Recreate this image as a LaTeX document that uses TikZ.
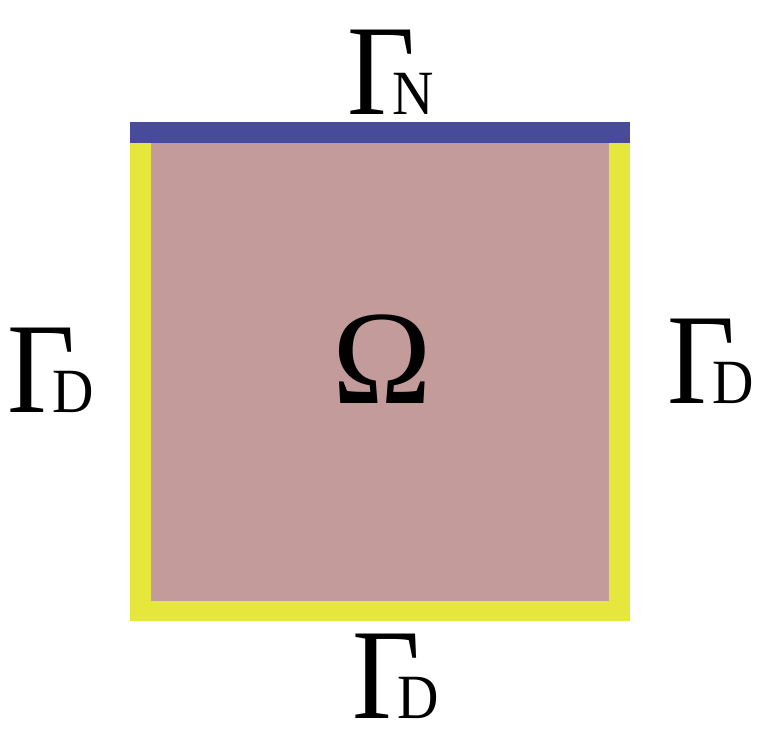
\documentclass[tikz,border=0pt]{standalone}
\usepackage{fontspec}
\setmainfont{Liberation Serif}
\definecolor{domcol}{HTML}{C39B9B}
\definecolor{neucol}{HTML}{484A9A}
\definecolor{dircol}{HTML}{E5E73C}
\tikzset{
  lbl/.style={inner sep=0pt, text depth=0pt, anchor=base west, font=\fontsize{129}{129}\selectfont},
}
\newcommand{\glab}[1]{\scalebox{0.91}[1]{Γ\kern-25pt{\fontsize{63}{63}\selectfont #1}}}
\begin{document}
\begin{tikzpicture}[x=1pt,y=-1pt]
\useasboundingbox (0,0) rectangle (776,734);
% domain
\fill[domcol] (130,122) rectangle (630,621);
% boundaries
\fill[neucol] (130,122) rectangle (630,143);
\fill[dircol] (130,143) rectangle (151,621);
\fill[dircol] (609,143) rectangle (630,621);
\fill[dircol] (151,601) rectangle (609,621);
% labels
\node[lbl] (gn) at (347,114) {\glab{N}};
\node[lbl] (gdl) at (7,412) {\glab{D}};
\node[lbl] (gdr) at (667,403) {\glab{D}};
\node[lbl] (gdb) at (352,718) {\glab{D}};
\node[lbl, anchor=base, font=\fontsize{134}{134}\selectfont] (om) at (382,403) {Ω};
\end{tikzpicture}
\end{document}
